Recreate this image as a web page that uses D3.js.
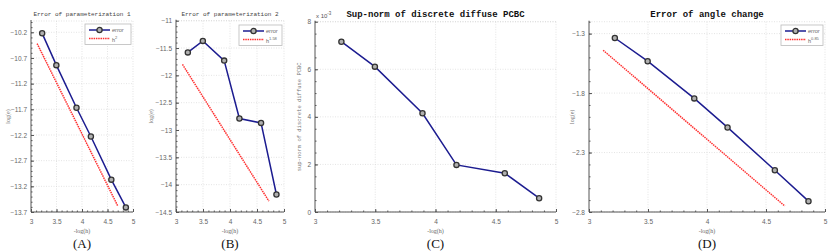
<!DOCTYPE html>
<html>
<head>
<meta charset="utf-8">
<script src="https://cdn.jsdelivr.net/npm/d3@7"></script>
<style>
  body { margin: 0; background: #fff; }
  svg { display: block; }
  .tick-label { font-family: "Liberation Sans", Arial, sans-serif; font-size: 6.5px; fill: #666; }
  .grid line { stroke: #d8d8d8; stroke-dasharray: 1,1.5; stroke-width: 0.7; }
  .axis-line { stroke: #555; stroke-width: 1; }
</style>
</head>
<body>
<svg id="chart" width="830" height="251"></svg>
<script>
// -log(h), h = 1/25, 1/33, 1/49, 1/65, 1/97, 1/129
const xVals = [3.219, 3.497, 3.892, 4.174, 4.575, 4.860];
const xTicks = [3, 3.5, 4, 4.5, 5];

const errA = [-10.22, -10.84, -11.67, -12.23, -13.07, -13.61];
const refAx = [3.12, 4.70];
const refAy = [-10.42, -13.58];
const yTicksA = [-10.2, -10.7, -11.2, -11.7, -12.2, -12.7, -13.2, -13.7];

const errB = [-11.58, -11.37, -11.73, -12.79, -12.87, -14.18];
const refBx = [3.12, 4.72];
const refBy = [-11.80, -14.30];
const yTicksB = [-11, -11.5, -12, -12.5, -13, -13.5, -14, -14.5];

// values in units of 1e-3
const errC = [7.16, 6.11, 4.15, 1.98, 1.63, 0.58];
const yTicksC = [0, 2, 4, 6, 8];

const errD = [-1.337, -1.532, -1.845, -2.089, -2.449, -2.709];
const refDx = [3.12, 4.66];
const refDy = [-1.44, -2.75];
const yTicksD = [-1.3, -1.8, -2.3, -2.8];

const svg = d3.select('#chart');

const panels = [
    { id: 'A', box: [31, 133, 21, 212], ydom: [-13.7, -9.98], yTicks: yTicksA, yMinor: 0.1,
      err: errA, refX: refAx, refY: refAy, refLabel: '2',
      title: 'Error of parameterization 1', bigTitle: false,
      ylabel: 'log(e)', ylabelX: 8, legend: [85, 24] },
    { id: 'B', box: [176, 284, 20.7, 212], ydom: [-14.5, -11], yTicks: yTicksB, yMinor: 0.1,
      err: errB, refX: refBx, refY: refBy, refLabel: '1.58',
      title: 'Error of parameterization 2', bigTitle: false,
      ylabel: 'log(e)', ylabelX: 151, legend: [239, 25] },
    { id: 'C', box: [315, 556, 21.7, 212], ydom: [0, 8], yTicks: yTicksC, yMinor: 0.5,
      err: errC, refX: null,
      title: 'Sup-norm of discrete diffuse PCBC', bigTitle: true,
      ylabel: 'sup-norm of discrete diffuse PCBC', ylabelX: 299, legend: null },
    { id: 'D', box: [589, 825, 21.7, 212], ydom: [-2.8, -1.2], yTicks: yTicksD, yMinor: 0.1,
      err: errD, refX: refDx, refY: refDy, refLabel: '0.85',
      title: 'Error of angle change', bigTitle: true,
      ylabel: 'log(e)', ylabelX: 572, legend: [781, 25] }
];

function minorTicks(dom, step) {
    const lo = Math.min(dom[0], dom[1]), hi = Math.max(dom[0], dom[1]);
    const out = [];
    for (let v = Math.ceil(lo / step - 1e-6) * step; v <= hi + 1e-9; v += step) out.push(+v.toFixed(4));
    return out;
}

function drawMarker(g, cx, cy) {
    g.append('circle')
        .attr('cx', cx).attr('cy', cy).attr('r', 2.6)
        .attr('fill', '#b0b0b0')
        .attr('stroke', '#333')
        .attr('stroke-width', 1.3);
}

panels.forEach(p => {
    const [x0, x1, y0, y1] = p.box;
    const x = d3.scaleLinear().domain([3, 5]).range([x0, x1]);
    const y = d3.scaleLinear().domain(p.ydom).range([y1, y0]);
    const g = svg.append('g').attr('class', 'panel-' + p.id);

    // Grid
    const grid = g.append('g').attr('class', 'grid');
    grid.selectAll('.gx').data(xTicks.slice(1)).enter().append('line')
        .attr('x1', d => x(d)).attr('x2', d => x(d))
        .attr('y1', y0).attr('y2', y1);
    grid.selectAll('.gy').data(p.yTicks).enter().append('line')
        .attr('x1', x0).attr('x2', x1)
        .attr('y1', d => y(d)).attr('y2', d => y(d));
    grid.append('line').attr('x1', x0).attr('x2', x1).attr('y1', y0).attr('y2', y0);

    // Axes
    const xAxis = d3.axisBottom(x).tickValues(xTicks).tickSize(3).tickFormat(d3.format('~g'));
    const xMinor = d3.axisBottom(x).tickValues(minorTicks([3, 5], 0.1)).tickSize(1.5).tickFormat('');
    const yAxis = d3.axisLeft(y).tickValues(p.yTicks).tickSize(3).tickFormat(d3.format('~g'));
    const yMinor = d3.axisLeft(y).tickValues(minorTicks(p.ydom, p.yMinor)).tickSize(1.5).tickFormat('');

    [xMinor, xAxis].forEach(ax => {
        const a = g.append('g').attr('transform', `translate(0,${y1})`).call(ax);
        a.select('.domain').remove();
        a.selectAll('.tick line').attr('stroke', '#555').attr('y2', ax === xAxis ? -3 : -1.5);
        a.selectAll('text').attr('class', 'tick-label').attr('y', 7).attr('dy', '0.71em');
    });
    [yMinor, yAxis].forEach(ax => {
        const a = g.append('g').attr('transform', `translate(${x0},0)`).call(ax);
        a.select('.domain').remove();
        a.selectAll('.tick line').attr('stroke', '#555').attr('x2', ax === yAxis ? 3 : 1.5);
        a.selectAll('text').attr('class', 'tick-label').attr('x', -4);
    });
    g.append('line').attr('class', 'axis-line')
        .attr('x1', x0).attr('x2', x1).attr('y1', y1).attr('y2', y1);
    g.append('line').attr('class', 'axis-line')
        .attr('x1', x0).attr('x2', x0).attr('y1', y0 - 1).attr('y2', y1);

    // Reference slope line
    if (p.refX) {
        g.append('line')
            .attr('x1', x(p.refX[0])).attr('y1', y(p.refY[0]))
            .attr('x2', x(p.refX[1])).attr('y2', y(p.refY[1]))
            .attr('stroke', '#ff3030')
            .attr('stroke-width', 1.5)
            .attr('stroke-dasharray', '1.5,0.8');
    }

    // Error curve
    const pts = xVals.map((v, i) => [v, p.err[i]]);
    g.append('path')
        .attr('d', d3.line().x(d => x(d[0])).y(d => y(d[1]))(pts))
        .attr('fill', 'none')
        .attr('stroke', '#1c1c90')
        .attr('stroke-width', 1.5);
    pts.forEach(d => drawMarker(g, x(d[0]), y(d[1])));

    // Title
    g.append('text')
        .attr('x', (x0 + x1) / 2)
        .attr('y', p.bigTitle ? 17 : 16)
        .attr('text-anchor', 'middle')
        .style('font-family', '"Liberation Mono", "DejaVu Sans Mono", monospace')
        .style('font-size', p.bigTitle ? '9px' : '6px')
        .style('font-weight', p.bigTitle ? 'bold' : 'normal')
        .attr('fill', p.bigTitle ? '#111' : '#444')
        .text(p.title);

    // Axis labels
    g.append('text')
        .attr('x', (x0 + x1) / 2).attr('y', 233)
        .attr('text-anchor', 'middle')
        .style('font-family', '"Liberation Serif", serif')
        .style('font-size', '6px')
        .attr('fill', '#666')
        .text('-log(h)');
    const yl = (y0 + y1) / 2;
    g.append('text')
        .attr('transform', `translate(${p.ylabelX},${yl}) rotate(-90)`)
        .attr('text-anchor', 'middle')
        .attr('dy', '0.35em')
        .style('font-family', p.id === 'C' ? '"Liberation Mono", monospace' : '"Liberation Serif", serif')
        .style('font-size', p.id === 'C' ? '5.5px' : '6px')
        .attr('fill', '#777')
        .text(p.ylabel);

    // Panel label
    g.append('text')
        .attr('x', (x0 + x1) / 2).attr('y', 248)
        .attr('text-anchor', 'middle')
        .style('font-family', '"Liberation Serif", serif')
        .style('font-size', '13px')
        .attr('fill', '#111')
        .text(`(${p.id})`);

    if (p.id === 'C') {
        const m = g.append('text')
            .attr('x', x0 + 1).attr('y', 18)
            .style('font-family', '"Liberation Sans", sans-serif')
            .style('font-size', '6px')
            .attr('fill', '#555');
        m.append('tspan').text('x 10');
        m.append('tspan').attr('dy', -3).style('font-size', '4.5px').text('-3');
    }

    // Legend
    if (p.legend) {
        const [lx, ly] = p.legend;
        const lg = g.append('g').attr('transform', `translate(${lx},${ly})`);
        lg.append('rect')
            .attr('width', x1 - 2 - lx).attr('height', 20.5)
            .attr('fill', '#fff').attr('stroke', '#bbb').attr('stroke-width', 0.8);
        lg.append('line').attr('x1', 4).attr('x2', 25).attr('y1', 6).attr('y2', 6)
            .attr('stroke', '#1c1c90').attr('stroke-width', 1.5);
        drawMarker(lg, 14.5, 6);
        lg.append('line').attr('x1', 4).attr('x2', 25).attr('y1', 14.5).attr('y2', 14.5)
            .attr('stroke', '#ff3030').attr('stroke-width', 1.5).attr('stroke-dasharray', '1.5,0.8');
        lg.append('text').attr('x', 27).attr('y', 8)
            .style('font-family', '"Liberation Sans", sans-serif').style('font-size', '5.5px')
            .style('font-style', 'italic').attr('fill', '#666').text('error');
        const h = lg.append('text').attr('x', 27).attr('y', 17.5)
            .style('font-family', '"Liberation Sans", sans-serif').style('font-size', '5.5px')
            .attr('fill', '#666');
        h.append('tspan').text('h');
        h.append('tspan').attr('dy', -2.5).style('font-size', '4px').text(p.refLabel);
    }
});
</script>
</body>
</html>
